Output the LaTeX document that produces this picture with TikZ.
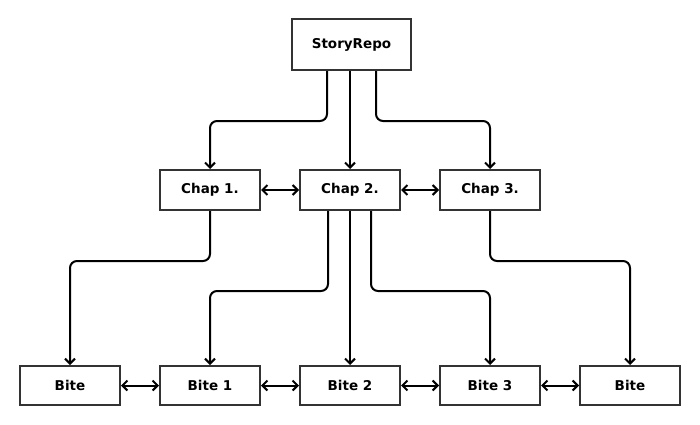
\documentclass[tikz,border=0pt]{standalone}
\usepackage{fontspec}
\setmainfont{DejaVu Sans}
\usetikzlibrary{arrows.meta}

\tikzset{
    box/.style={draw=black!80, line width=2pt, minimum width=100pt, minimum height=40pt, font=\bfseries\fontsize{13.5}{15}\selectfont},
    link/.style={line width=2pt, rounded corners=7pt, -{Straight Barb[length=5pt,width=10pt]}},
    twoway/.style={line width=2pt, {Straight Barb[length=5pt,width=10pt]}-{Straight Barb[length=5pt,width=10pt]}}
}

\begin{document}
\begin{tikzpicture}[x=1pt,y=1pt]
    \useasboundingbox (0,0) rectangle (700,424);

    % Repository
    \node [box, minimum width=119pt, minimum height=51pt] (repo) at (351.5,379.5) {StoryRepo};

    % Chapters
    \node [box] (chapA) at (210,234) {Chap 1.};
    \node [box] (chapB) at (350,234) {Chap 2.};
    \node [box] (chapC) at (490,234) {Chap 3.};

    % Bites
    \node [box, minimum height=39pt] (biteL) at (70,38.5) {Bite};
    \node [box, minimum height=39pt] (biteA) at (210,38.5) {Bite 1};
    \node [box, minimum height=39pt] (biteB) at (350,38.5) {Bite 2};
    \node [box, minimum height=39pt] (biteC) at (490,38.5) {Bite 3};
    \node [box, minimum height=39pt] (biteR) at (630,38.5) {Bite};

    % Repository to chapters
    \draw [link] ([xshift=-24.5pt]repo.south) -- ++(0,-50) -| (chapA.north);
    \draw [link] (repo.south -| chapB.north) -- (chapB.north);
    \draw [link] ([xshift=24.5pt]repo.south) -- ++(0,-50) -| (chapC.north);

    % Chapters to bites
    \draw [link] (chapA.south) -- ++(0,-50) -| (biteL.north);
    \draw [link] ([xshift=-22pt]chapB.south) -- ++(0,-80) -| (biteA.north);
    \draw [link] (chapB.south) -- (biteB.north);
    \draw [link] ([xshift=21pt]chapB.south) -- ++(0,-80) -| (biteC.north);
    \draw [link] (chapC.south) -- ++(0,-50) -| (biteR.north);

    % Neighbours
    \draw [twoway] (chapA) -- (chapB);
    \draw [twoway] (chapB) -- (chapC);
    \draw [twoway] (biteL) -- (biteA);
    \draw [twoway] (biteA) -- (biteB);
    \draw [twoway] (biteB) -- (biteC);
    \draw [twoway] (biteC) -- (biteR);
\end{tikzpicture}
\end{document}
